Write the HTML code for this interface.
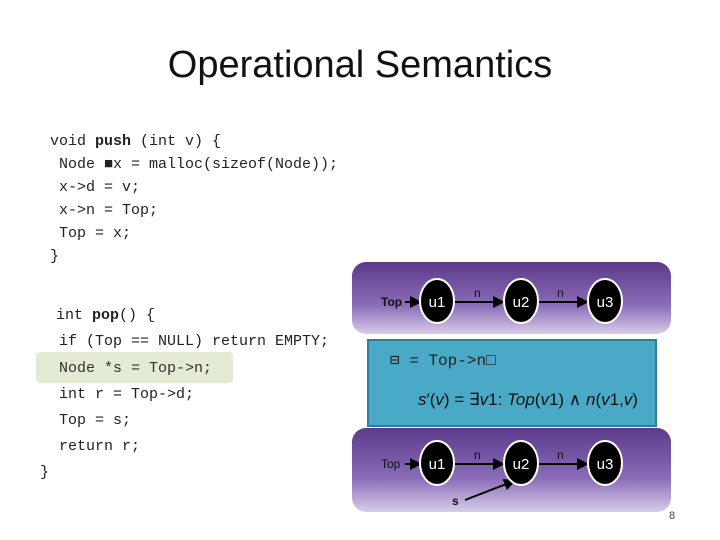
<!DOCTYPE html>
<html><head><style>
body{margin:0;width:720px;height:540px;background:#fff;position:relative;overflow:hidden;font-family:"Liberation Sans",sans-serif}
.t{position:absolute;left:0;width:720px;top:44px;text-align:center;font-size:38px;color:#111}
.c{position:absolute;font-family:"Liberation Mono",monospace;font-size:15px;color:#222;white-space:pre;line-height:1}
.hl{position:absolute;left:36px;top:352px;width:197px;height:31px;background:#e3ebd4;border-radius:4px}
.pb{position:absolute;left:352px;width:319px;border-radius:14px;background:linear-gradient(#5c3a8a,#8a6cb8 60%,#d8cde8)}
.teal{position:absolute;left:367px;top:339px;width:286px;height:84px;background:#4aa9c6;border:2px solid #2d7f95}
</style></head><body>
<div class="t">Operational Semantics</div>
<div class="c" style="left:50px;top:134px">void <b>push</b> (int v) {</div>
<div class="c" style="left:59px;top:157px">Node &#x25A0;x = malloc(sizeof(Node));</div>
<div class="c" style="left:59px;top:180px">x-&gt;d = v;</div>
<div class="c" style="left:59px;top:203px">x-&gt;n = Top;</div>
<div class="c" style="left:59px;top:226px">Top = x;</div>
<div class="c" style="left:50px;top:249px">}</div>
<div class="hl"></div>
<div class="c" style="left:56px;top:308px">int <b>pop</b>() {</div>
<div class="c" style="left:59px;top:334px">if (Top == NULL) return EMPTY;</div>
<div class="c" style="left:59px;top:361px;color:#333">Node *s = Top-&gt;n;</div>
<div class="c" style="left:59px;top:387px">int r = Top-&gt;d;</div>
<div class="c" style="left:59px;top:413px">Top = s;</div>
<div class="c" style="left:59px;top:439px">return r;</div>
<div class="c" style="left:40px;top:465px">}</div>
<div class="pb" style="top:262px;height:72px"></div>
<div class="teal"></div>
<div class="pb" style="top:428px;height:84px"></div>
<div class="c" style="left:390px;top:353px;font-size:16px">&#x229F; = Top-&gt;n&#x25A1;</div>
<div style="position:absolute;left:418px;top:390px;font-size:17px;color:#111"><i>s</i>′(<i>v</i>) = ∃<i>v</i>1: <i>Top</i>(<i>v</i>1) ∧ <i>n</i>(<i>v</i>1,<i>v</i>)</div>
<svg width="720" height="540" style="position:absolute;left:0;top:0">
<defs><marker id="a" markerWidth="6" markerHeight="6" refX="5" refY="3" orient="auto"><path d="M0,0L6,3L0,6z" fill="#000"/></marker></defs>
<g font-family="Liberation Sans" font-size="12" fill="#111">
<text x="381" y="306" font-weight="bold">Top</text>
<text x="474" y="297">n</text><text x="557" y="297">n</text>
<text x="381" y="468">Top</text>
<text x="474" y="459">n</text><text x="557" y="459">n</text>
<text x="452" y="505" font-weight="bold">s</text>
<text x="669" y="519" font-size="11" fill="#444">8</text>
</g>
<g stroke="#000" stroke-width="2" marker-end="url(#a)">
<line x1="405" y1="302" x2="420" y2="302"/><line x1="454" y1="302" x2="503" y2="302"/><line x1="538" y1="302" x2="587" y2="302"/>
<line x1="405" y1="464" x2="420" y2="464"/><line x1="454" y1="464" x2="503" y2="464"/><line x1="538" y1="464" x2="587" y2="464"/>
<line x1="465" y1="500" x2="514" y2="481"/>
</g>
<g fill="#000" stroke="#fff" stroke-width="2">
<ellipse cx="437" cy="301" rx="17" ry="22"/><ellipse cx="521" cy="301" rx="17" ry="22"/><ellipse cx="605" cy="301" rx="17" ry="22"/>
<ellipse cx="437" cy="463" rx="17" ry="22"/><ellipse cx="521" cy="463" rx="17" ry="22"/><ellipse cx="605" cy="463" rx="17" ry="22"/>
</g>
<g font-family="Liberation Sans" font-size="15" fill="#fff" text-anchor="middle">
<text x="437" y="307">u1</text><text x="521" y="307">u2</text><text x="605" y="307">u3</text>
<text x="437" y="469">u1</text><text x="521" y="469">u2</text><text x="605" y="469">u3</text>
</g>
</svg>
</body></html>
